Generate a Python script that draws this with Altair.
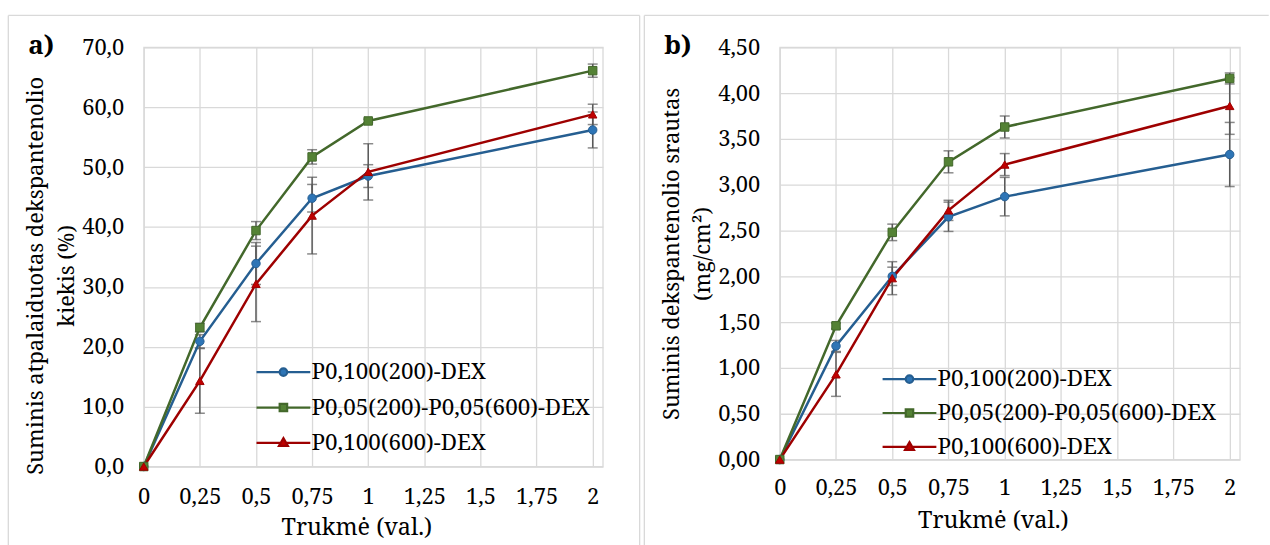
import altair as alt
import pandas as pd

# ---------------- data ----------------
time_h = [0, 0.25, 0.5, 0.75, 1, 2]
series_names = ["P0,100(200)-DEX", "P0,05(200)-P0,05(600)-DEX", "P0,100(600)-DEX"]

# panel a) cumulative released dexpanthenol (%)
a_p100_200 = [0, 20.9, 33.9, 44.8, 48.5, 56.2]
a_p005_mix = [0, 23.2, 39.4, 51.7, 57.7, 66.1]
a_p100_600 = [0, 14.3, 30.5, 41.9, 49.2, 58.8]
a_err_p100_200 = [0, 1.1, 3.5, 2.3, 1.9, 3.0]
a_err_p005_mix = [0, 0.7, 1.5, 1.2, 0.3, 1.1]
a_err_p100_600 = [0, 5.4, 6.3, 6.4, 4.7, 1.7]

# panel b) cumulative dexpanthenol flux (mg/cm2)
b_p100_200 = [0, 1.24, 2.00, 2.65, 2.87, 3.33]
b_p005_mix = [0, 1.46, 2.48, 3.25, 3.63, 4.16]
b_p100_600 = [0, 0.93, 1.98, 2.72, 3.22, 3.86]
b_err_p100_200 = [0, 0.06, 0.10, 0.16, 0.21, 0.35]
b_err_p005_mix = [0, 0.03, 0.09, 0.12, 0.12, 0.06]
b_err_p100_600 = [0, 0.24, 0.18, 0.11, 0.12, 0.31]

x_ticks = [0, 0.25, 0.5, 0.75, 1, 1.25, 1.5, 1.75, 2]
a_y_ticks = [0, 10, 20, 30, 40, 50, 60, 70]
b_y_ticks = [0, 0.5, 1, 1.5, 2, 2.5, 3, 3.5, 4, 4.5]

x_title = "Trukmė (val.)"
a_y_title = ["Suminis atpalaiduotas dekspantenolio", "kiekis (%)"]
b_y_title = ["Suminis dekspantenolio srautas", "(mg/cm²)"]

# ---------------- style ----------------
FONT = "Noto Serif"
GRID = "#D9D9D9"
ERR = "#595959"
line_colors = ["#255E91", "#43682B", "#9E0000"]
fill_colors = ["#2E75B6", "#548235", "#C00000"]
plot_shapes = ["circle", "square", "triangle-up"]
legend_shapes = [
    "M-5.4,0L-0.75,0M0.75,0L5.4,0M-0.75,0A0.75,0.75,0,1,0,0.75,0A0.75,0.75,0,1,0,-0.75,0Z",
    "M-5.4,0L-0.75,0M0.75,0L5.4,0M-0.75,-0.75L0.75,-0.75L0.75,0.75L-0.75,0.75Z",
    "M-5.4,0L-0.55,0M0.55,0L5.4,0M0,-0.95L0.9,0.6L-0.9,0.6Z",
]


def build_df(vals, errs):
    rows = []
    for name, v, e in zip(series_names, vals, errs):
        for t, yv, ev in zip(time_h, v, e):
            rows.append({"t": t, "series": name, "y": yv,
                         "lo": yv - ev, "hi": yv + ev, "err": ev})
    return pd.DataFrame(rows)


def panel(df, y_ticks, y_max, y_fmt, y_title, label, w, h,
          y_title_y, x_label_pad, leg_x, leg_y, leg_pad, frame_right, right_edge):
    x_axis = alt.Axis(values=x_ticks, labelExpr="replace('' + datum.value, '.', ',')",
                      title=x_title, titleX=w / 2 - 17, titleY=68,
                      titleBaseline="alphabetic", titleAlign="center",
                      labelBaseline="alphabetic", labelPadding=x_label_pad,
                      labelFlush=False, labelOverlap=False,
                      labelFont=FONT, titleFont=FONT, titleFontSize=23.5)
    y_axis = alt.Axis(values=y_ticks,
                      labelExpr="replace(format(datum.value, '%s'), '.', ',')" % y_fmt,
                      title=y_title, titleX=-102, titleY=y_title_y,
                      titleBaseline="alphabetic", titleAlign="center", titleLineHeight=31,
                      labelPadding=20, labelFlush=False, labelOverlap=False,
                      labelFont=FONT, titleFont=FONT, titleFontSize=22)
    xs = alt.Scale(domain=[0, 2.045], nice=False, zero=False)
    ys = alt.Scale(domain=[0, y_max], nice=False)
    X = alt.X("t:Q", scale=xs, axis=x_axis)

    base = alt.Chart(df)
    errdf = base.transform_filter("datum.err > 0")
    bars = errdf.mark_rule(color=ERR, strokeWidth=1.5).encode(
        x=X, y=alt.Y("lo:Q", scale=ys, axis=y_axis), y2="hi:Q")
    cap_lo = errdf.mark_tick(orient="horizontal", size=10, thickness=1.5, color=ERR).encode(
        x=X, y=alt.Y("lo:Q", scale=ys, axis=y_axis))
    cap_hi = errdf.mark_tick(orient="horizontal", size=10, thickness=1.5, color=ERR).encode(
        x=X, y=alt.Y("hi:Q", scale=ys, axis=y_axis))

    Y = alt.Y("y:Q", scale=ys, axis=y_axis)
    lines = base.mark_line(strokeWidth=2.5).encode(
        x=X, y=Y,
        stroke=alt.Stroke("series:N", scale=alt.Scale(domain=series_names, range=line_colors),
                          legend=None))
    pts = base.mark_point(filled=True, size=72, strokeWidth=1, opacity=1).encode(
        x=X, y=Y,
        fill=alt.Fill("series:N", scale=alt.Scale(domain=series_names, range=fill_colors),
                      legend=None),
        stroke=alt.Stroke("series:N", scale=alt.Scale(domain=series_names, range=line_colors),
                          legend=None),
        shape=alt.Shape("series:N", scale=alt.Scale(domain=series_names, range=plot_shapes),
                        legend=None))

    leg = alt.Legend(title=None, orient="none", legendX=leg_x, legendY=leg_y,
                     symbolSize=100, symbolStrokeWidth=2.2, symbolOpacity=1,
                     labelFont=FONT, labelFontSize=22.5, labelColor="black",
                     labelOffset=17, rowPadding=leg_pad, padding=0, labelLimit=0)
    legend_layer = base.mark_point(filled=True, opacity=0).encode(
        x=X, y=Y,
        fill=alt.Fill("series:N", scale=alt.Scale(domain=series_names, range=fill_colors),
                      legend=leg),
        stroke=alt.Stroke("series:N", scale=alt.Scale(domain=series_names, range=line_colors),
                          legend=leg),
        shape=alt.Shape("series:N", scale=alt.Scale(domain=series_names, range=legend_shapes),
                        legend=leg))

    one = alt.Chart(alt.Data(values=[{}]))
    lab = one.mark_text(text=label, font=FONT, fontSize=26, fontWeight="bold",
                        align="left", baseline="alphabetic", color="black").encode(
        x=alt.value(-116), y=alt.value(7))
    frame_top = one.mark_rule(color=GRID, strokeWidth=1.3).encode(
        x=alt.value(-136), x2=alt.value(right_edge), y=alt.value(-32))
    frame_left = one.mark_rule(color=GRID, strokeWidth=1.3).encode(
        x=alt.value(-136), y=alt.value(-32), y2=alt.value(500))
    layers = [frame_top, frame_left]
    if frame_right:
        layers.append(one.mark_rule(color=GRID, strokeWidth=1.3).encode(
            x=alt.value(right_edge), y=alt.value(-32), y2=alt.value(500)))
    layers += [bars, cap_lo, cap_hi, lines, pts, legend_layer, lab]

    return alt.layer(*layers).properties(width=w, height=h).resolve_scale(
        fill="independent", stroke="independent", shape="independent"
    ).resolve_legend(fill="independent", stroke="independent", shape="independent")


df_a = build_df([a_p100_200, a_p005_mix, a_p100_600],
                [a_err_p100_200, a_err_p005_mix, a_err_p100_600])
df_b = build_df([b_p100_200, b_p005_mix, b_p100_600],
                [b_err_p100_200, b_err_p005_mix, b_err_p100_600])

pa = panel(df_a, a_y_ticks, 70, ".1f", a_y_title, "a)", 461, 421,
           229, 37, 129, 315, 12.5, True, 498)
pb = panel(df_b, b_y_ticks, 4.5, ".2f", b_y_title, "b)", 462, 414,
           207, 35, 119, 322, 11, False, 491)

chart = alt.hconcat(pa, pb, spacing=0.7).resolve_scale(
    fill="independent", stroke="independent", shape="independent"
).resolve_legend(
    fill="independent", stroke="independent", shape="independent"
).properties(
    padding={"left": 6.35, "top": 12.35, "right": 0, "bottom": 0}
).configure_view(
    stroke=GRID, strokeWidth=1.3
).configure_axis(
    labelFontSize=22, labelColor="black",
    titleFontWeight="normal", titleColor="black",
    gridColor=GRID, gridWidth=1.3, domain=False, ticks=False, tickSize=0
)

chart.save("out.html", embed_options={"renderer": "svg", "actions": False})
